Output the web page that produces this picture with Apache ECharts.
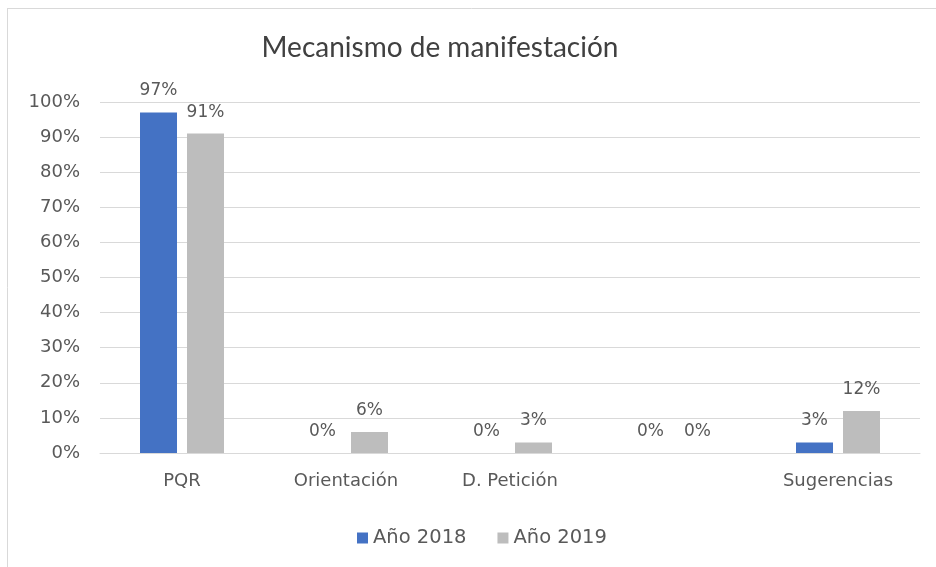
<!DOCTYPE html>
<html>
<head>
<meta charset="utf-8">
<script src="https://cdn.jsdelivr.net/npm/echarts@6/dist/echarts.min.js"></script>
<style>
html,body{margin:0;padding:0;background:#fff;}
#c{width:936px;height:567px;}
</style>
</head>
<body>
<div id="c"></div>
<script>
const categories = ['PQR', 'Orientación', 'D. Petición', '', 'Sugerencias'];
const serie2018 = [97, 0, 0, 0, 3];
const serie2019 = [91, 6, 3, 0, 12];
const seriesNames = ['Año 2018', 'Año 2019'];
const yTicks = [0, 100, 10];

const font = '"DejaVu Sans", sans-serif';
const titleFont = 'Lato, sans-serif';
const chart = echarts.init(document.getElementById('c'));
const lbl = {
  show: true, position: 'top', distance: 13,
  formatter: p => p.value + '%',
  color: '#595959', fontSize: 17, fontFamily: font
};
chart.setOption({
  animation: false,
  backgroundColor: '#fff',
  title: {
    text: 'Mecanismo de manifestación',
    left: 435, top: 29, textAlign: 'center',
    textStyle: {color: '#404040', fontSize: 28, fontWeight: 'normal', fontFamily: titleFont}
  },
  graphic: [
    {type: 'line', shape: {x1: 7.5, y1: 8, x2: 7.5, y2: 567}, style: {stroke: '#D9D9D9', lineWidth: 1}},
    {type: 'line', shape: {x1: 7, y1: 8.5, x2: 936, y2: 8.5}, style: {stroke: '#D9D9D9', lineWidth: 1}}
  ],
  legend: {
    data: seriesNames,
    left: 352, top: 523, padding: 5,
    itemWidth: 11, itemHeight: 11, itemGap: 31,
    icon: 'rect',
    textStyle: {color: '#595959', fontSize: 19.5, fontFamily: font}
  },
  grid: {left: 100, right: 16, top: 102, bottom: 114, containLabel: false},
  xAxis: {
    type: 'category', data: categories,
    axisTick: {show: false},
    axisLine: {lineStyle: {color: '#D9D9D9'}},
    axisLabel: {color: '#595959', fontSize: 18, fontFamily: font, margin: 19}
  },
  yAxis: {
    type: 'value', min: yTicks[0], max: yTicks[1], interval: yTicks[2],
    axisLine: {show: false}, axisTick: {show: false},
    splitLine: {lineStyle: {color: '#D9D9D9'}},
    axisLabel: {formatter: '{value}%', color: '#595959', fontSize: 18, fontFamily: font, margin: 20}
  },
  series: [
    {name: seriesNames[0], type: 'bar', data: serie2018, barWidth: 37, barGap: '27%',
     itemStyle: {color: '#4472C4'}, label: lbl},
    {name: seriesNames[1], type: 'bar', data: serie2019, barWidth: 37,
     itemStyle: {color: '#BDBDBD'}, label: lbl}
  ]
});
</script>
</body>
</html>
